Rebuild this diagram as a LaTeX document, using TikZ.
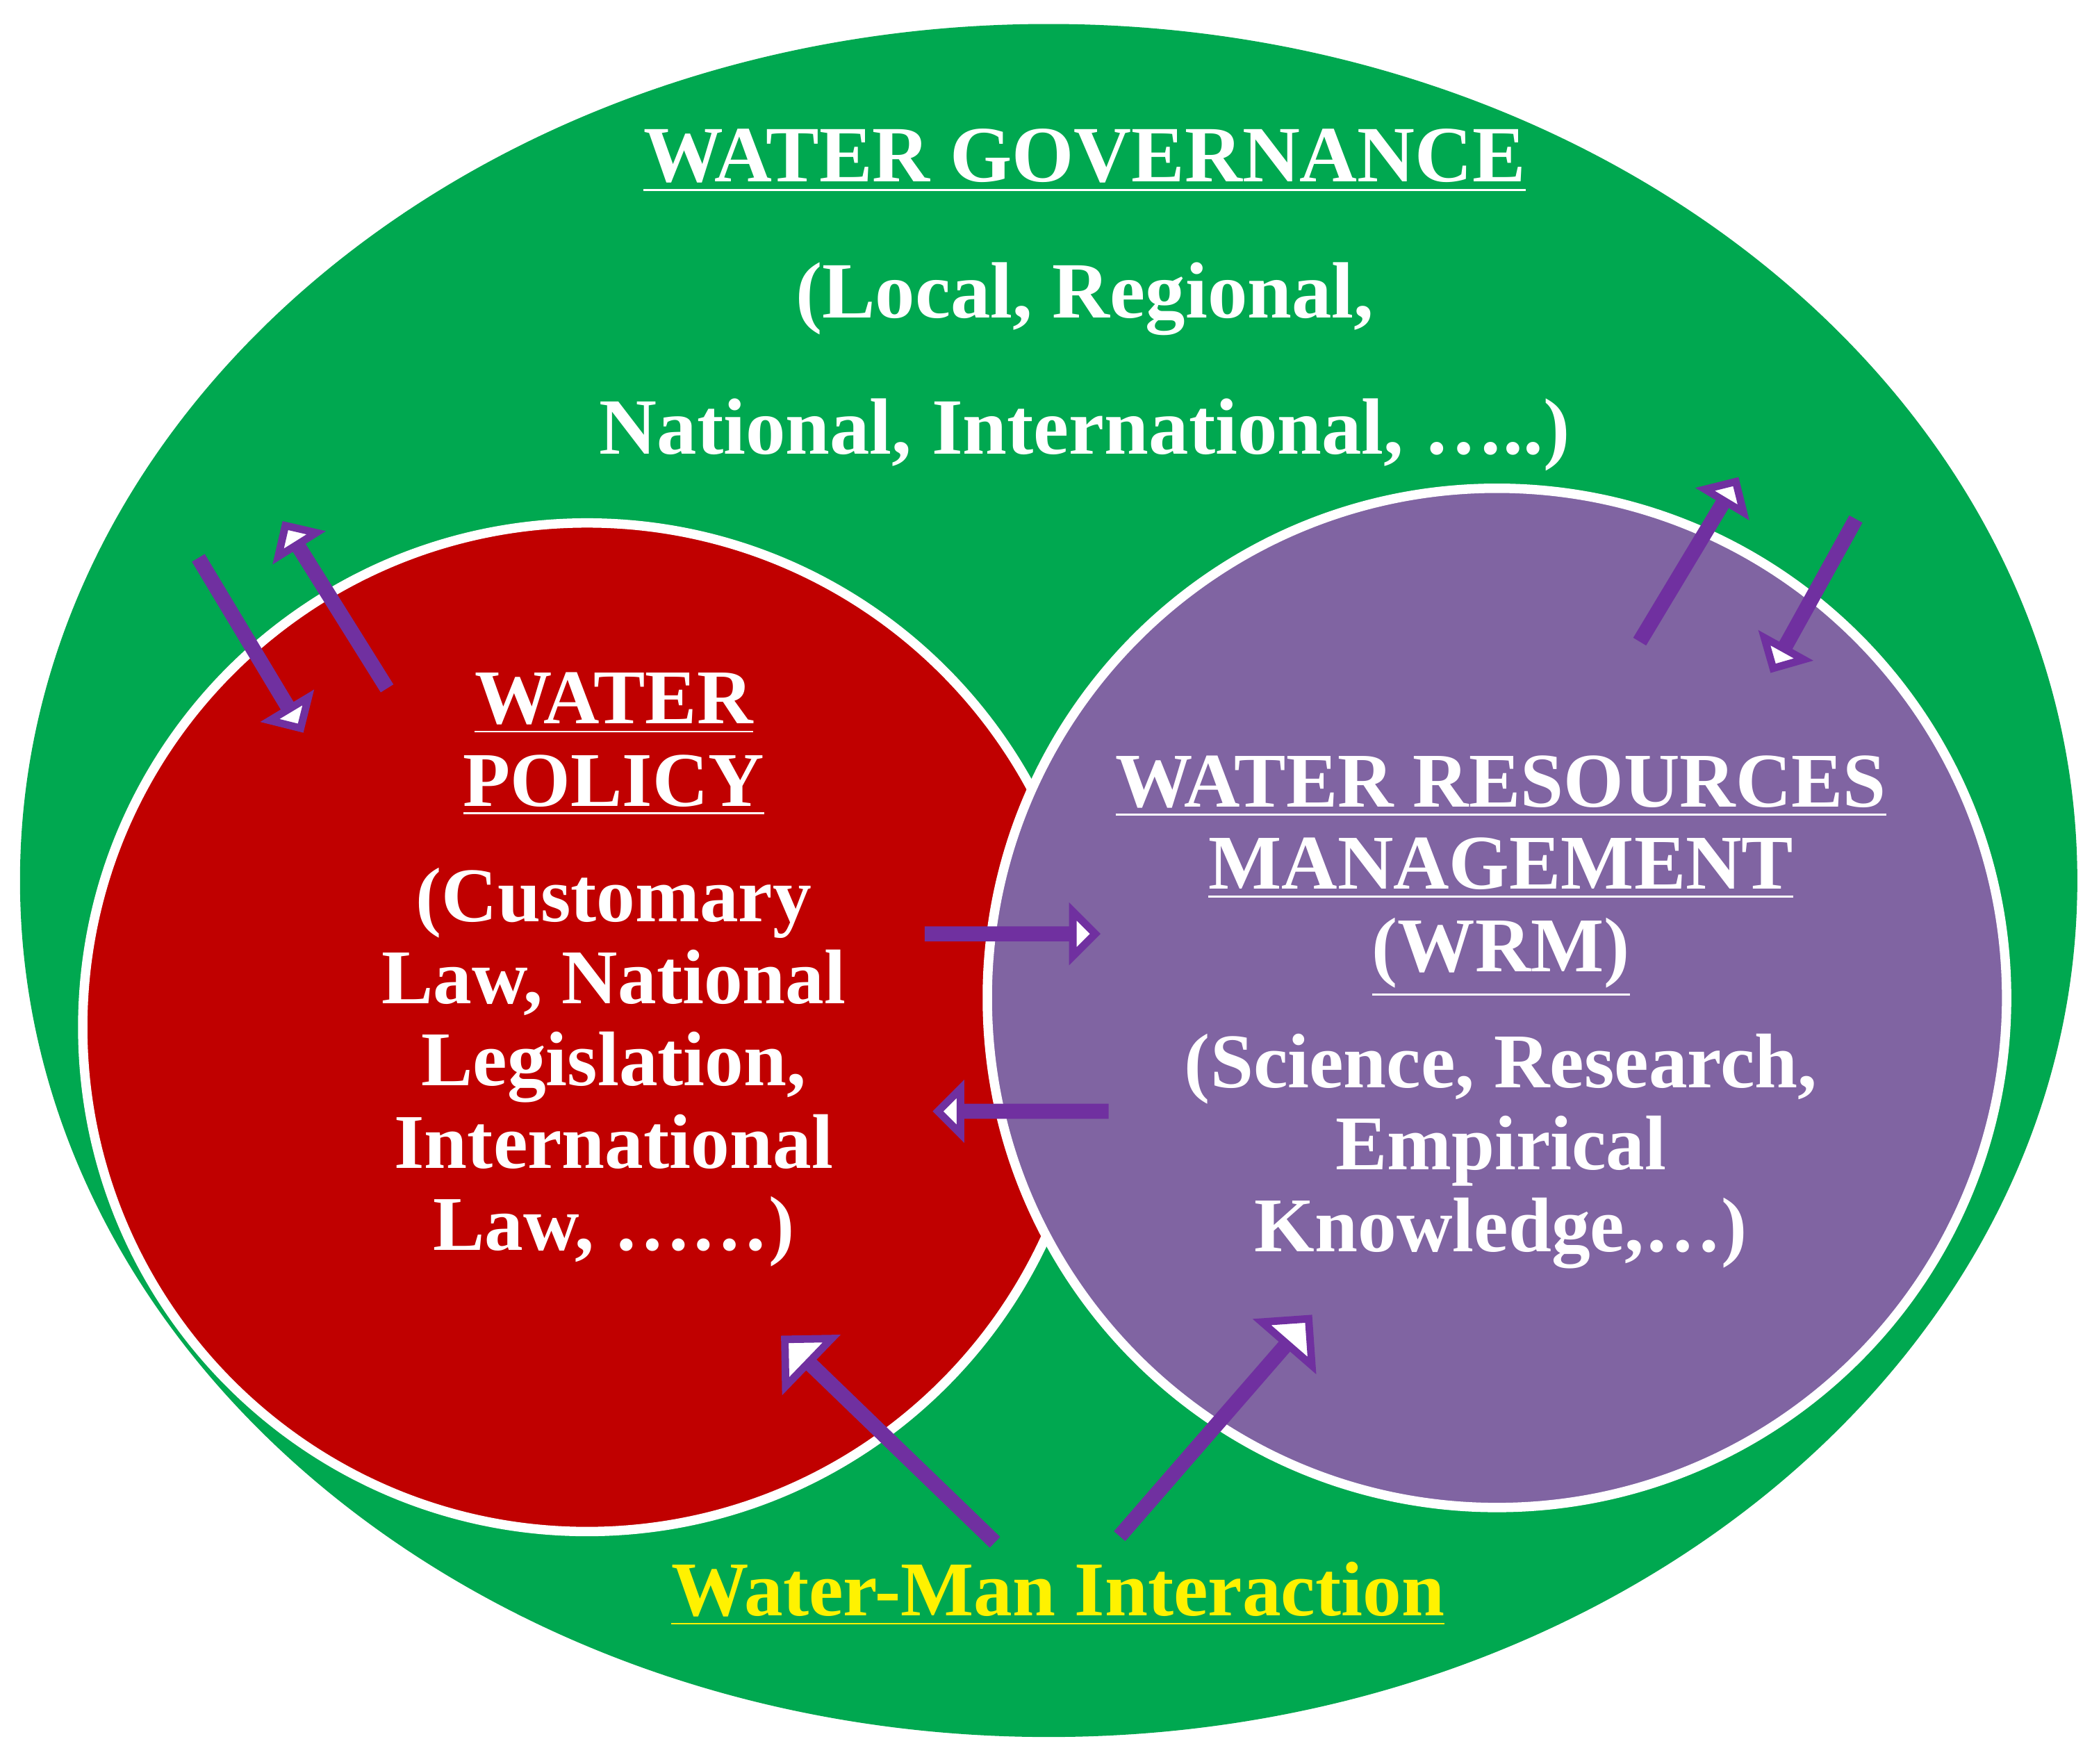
\documentclass[tikz,border=0pt]{standalone}
\usepackage{fontspec}
\setmainfont{Liberation Serif}
\usetikzlibrary{shapes.arrows}
\definecolor{gov}{RGB}{0,168,80}
\definecolor{pol}{RGB}{192,0,0}
\definecolor{wrm}{RGB}{128,100,162}
\definecolor{arrline}{RGB}{112,48,160}
\tikzset{
  blockarrow/.style={single arrow, draw=arrline, fill=white, line width=1.6pt, inner sep=0pt, anchor=center, single arrow tip angle=90},
  smallarr/.style={blockarrow, minimum width=0.2cm, single arrow head extend=0.14cm},
  bigarr/.style={blockarrow, minimum width=0.42cm, single arrow head extend=0.22cm},
  txt/.style={text=white, font=\bfseries\fontsize{16.5}{17.5}\selectfont, align=center, inner sep=0pt}
}
\begin{document}
\begin{tikzpicture}[x=0.01cm,y=0.01cm]
\useasboundingbox (0,0) rectangle (1568,1322);
\fill[white] (0,0) rectangle (1568,1322);
\fill[gov] (786,662) ellipse [x radius=771, y radius=642];
\draw[white, line width=2pt, fill=pol] (440,552) circle [radius=378];
\draw[white, line width=2pt, fill=wrm] (1122,574) circle [radius=382];
% arrows
\node (a1) [smallarr, minimum height=1.46cm, rotate=-59] at (187,840) {};
\node (a2) [smallarr, minimum height=1.41cm, rotate=122] at (252,867) {};
\node (a3) [smallarr, minimum height=1.37cm, rotate=59] at (1265,901) {};
\node (a4) [smallarr, minimum height=1.25cm, rotate=-119] at (1360,877) {};
\node (a5) [smallarr, minimum height=1.25cm, rotate=0] at (757,622) {};
\node (a6) [smallarr, minimum height=1.25cm, rotate=180] at (767,489) {};
\node (a7) [bigarr, minimum height=2.16cm, rotate=136] at (667,242) {};
\node (a8) [bigarr, minimum height=2.13cm, rotate=49] at (910,252) {};
% texts
\node (govT) [txt, font=\bfseries\fontsize{17}{29}\selectfont] at (813,1097) {\underline{WATER GOVERNANCE}\\(Local, Regional,\\National, International, …..)};
\node (polT) [txt] at (460,764) {\underline{WATER}\\\underline{POLICY}};
\node (polB) [txt] at (460,522) {(Customary\\Law, National\\Legislation,\\International\\Law, ……)};
\node (wrmT) [txt] at (1125,665) {\underline{WATER RESOURCES}\\\underline{MANAGEMENT}\\\underline{(WRM)}};
\node (wrmB) [txt] at (1125,459) {(Science, Research,\\Empirical\\Knowledge,…)};
\node (wmi) [txt, text={yellow}] at (793,127) {\underline{Water-Man Interaction}};
\end{tikzpicture}
\end{document}
